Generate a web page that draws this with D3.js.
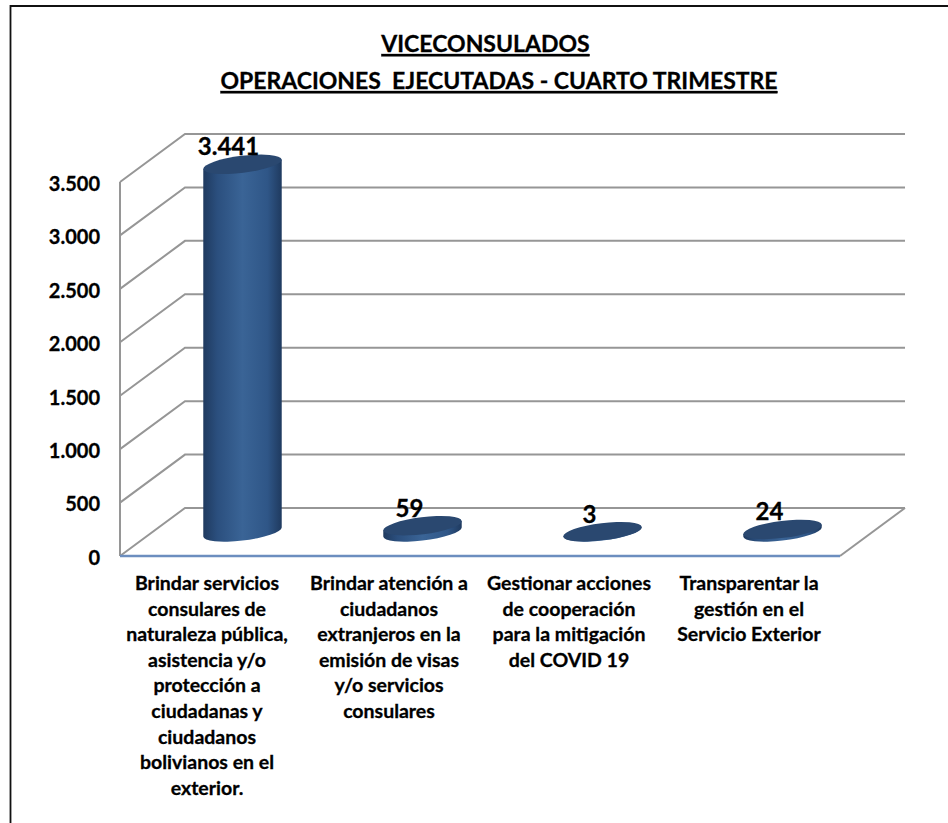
<!DOCTYPE html>
<html>
<head>
<meta charset="utf-8">
<script src="https://cdn.jsdelivr.net/npm/d3@7"></script>
<style>
  body { margin: 0; background: #fff; }
  text { font-family: Lato, sans-serif; font-weight: 700; fill: #000; stroke: #000; stroke-width: 0.3px; }
</style>
</head>
<body>
<div id="chart"></div>
<script>
const categories = [
    ["Brindar servicios", "consulares de", "naturaleza pública,", "asistencia y/o", "protección a", "ciudadanas y", "ciudadanos", "bolivianos en el", "exterior."],
    ["Brindar atención a", "ciudadanos", "extranjeros en la", "emisión de visas", "y/o servicios", "consulares"],
    ["Gestionar acciones", "de cooperación", "para la mitigación", "del COVID 19"],
    ["Transparentar la", "gestión en el", "Servicio Exterior"]
];
const values = [3441, 59, 3, 24];
const valueLabels = ["3.441", "59", "3", "24"];
const yTicks = [0, 500, 1000, 1500, 2000, 2500, 3000, 3500];
const tickLabels = ["0", "500", "1.000", "1.500", "2.000", "2.500", "3.000", "3.500"];
const titleLines = ["VICECONSULADOS", "OPERACIONES  EJECUTADAS - CUARTO TRIMESTRE"];

const width = 948, height = 823;
const plot = {left: 120, right: 840, bottom: 556, top: 182};
const depth = {x: 65, y: -48};
const rx = 39.5, ry = 8.5, tilt = -7;
const titleX = [485.5, 499];
const labelShift = [-3, -1, -1, -1];

const svg = d3.select("#chart")
    .append("svg")
    .attr("width", width)
    .attr("height", height)
    .style("display", "block");

// outer frame, only left and top are in the picture
svg.append("path")
    .attr("d", `M10.5,${height} V6 H${width}`)
    .attr("fill", "none")
    .attr("stroke", "#111")
    .attr("stroke-width", 1.8);

svg.selectAll(".title")
    .data(titleLines)
    .join("text")
    .attr("class", "title")
    .attr("x", (d, i) => titleX[i])
    .attr("y", (d, i) => 52 + i * 37)
    .attr("text-anchor", "middle")
    .attr("font-size", 23)
    .attr("xml:space", "preserve")
    .attr("text-decoration", "underline")
    .text(d => d);

const x = d3.scaleBand()
    .domain(d3.range(categories.length))
    .range([plot.left, plot.right]);

const y = d3.scaleLinear()
    .domain([0, 3500])
    .range([plot.bottom, plot.top]);

// walls and floor
const grid = svg.append("g")
    .attr("fill", "none")
    .attr("stroke", "#969696")
    .attr("stroke-width", 2);

grid.selectAll("path")
    .data(yTicks)
    .join("path")
    .attr("d", d => `M${plot.left},${y(d)} L${plot.left + depth.x},${y(d) + depth.y} H${plot.right + depth.x}`);

grid.append("path")
    .attr("d", `M${plot.left},${y(3500)} V${y(0)}`);
grid.append("path")
    .attr("d", `M${plot.right},${y(0)} L${plot.right + depth.x},${y(0) + depth.y}`);

// blue front edge of the floor
svg.append("line")
    .attr("x1", plot.left)
    .attr("x2", plot.right)
    .attr("y1", y(0))
    .attr("y2", y(0))
    .attr("stroke", "#6c8ebf")
    .attr("stroke-width", 2.5);

const yAxis = d3.axisLeft(y)
    .tickValues(yTicks)
    .tickFormat((d, i) => tickLabels[i])
    .tickSize(0)
    .tickPadding(18);

svg.append("g")
    .attr("transform", `translate(${plot.left - 2}, 2)`)
    .call(yAxis)
    .call(g => g.select(".domain").remove())
    .selectAll("text")
    .attr("font-size", 20)
    .attr("font-family", "Lato, sans-serif");

// cylinder shading
const defs = svg.append("defs");
const grad = defs.append("linearGradient")
    .attr("id", "body")
    .attr("x1", "0").attr("x2", "1")
    .attr("y1", "0").attr("y2", "0");
grad.append("stop").attr("offset", "0").attr("stop-color", "#1f3a5f");
grad.append("stop").attr("offset", "0.18").attr("stop-color", "#2b4f7e");
grad.append("stop").attr("offset", "0.5").attr("stop-color", "#3a6496");
grad.append("stop").attr("offset", "0.82").attr("stop-color", "#2f5687");
grad.append("stop").attr("offset", "1").attr("stop-color", "#1f3a5f");

// where a tilted ellipse has its left and right extremes
const t = tilt * Math.PI / 180;
const edgeX = Math.sqrt(rx * rx * Math.cos(t) ** 2 + ry * ry * Math.sin(t) ** 2);
const edgeY = (rx * rx - ry * ry) * Math.sin(t) * Math.cos(t) / edgeX;

const cx = i => x(i) + x.bandwidth() / 2 + depth.x / 2;
const base = y(0) + depth.y / 2;
const topOf = v => base - (y(0) - y(v));

const bars = svg.selectAll(".bar")
    .data(values)
    .join("g")
    .attr("class", "bar");

bars.append("path")
    .attr("fill", "url(#body)")
    .attr("d", (d, i) => {
        const c = cx(i), t0 = topOf(d);
        return `M${c - edgeX},${t0 - edgeY} L${c - edgeX},${base - edgeY}`
            + ` A${rx},${ry} ${tilt} 0 0 ${c + edgeX},${base + edgeY}`
            + ` L${c + edgeX},${t0 + edgeY} Z`;
    });

bars.append("ellipse")
    .attr("rx", rx)
    .attr("ry", ry)
    .attr("fill", "#2a4870")
    .attr("transform", (d, i) => `translate(${cx(i)},${topOf(d)}) rotate(${tilt})`);

bars.append("text")
    .attr("x", (d, i) => cx(i) - 14 + (i === 0 ? 0 : 1))
    .attr("y", d => topOf(d) - 9)
    .attr("text-anchor", "middle")
    .attr("font-size", 24)
    .text((d, i) => valueLabels[i]);

// category labels
const labels = svg.selectAll(".cat")
    .data(categories)
    .join("text")
    .attr("class", "cat")
    .attr("text-anchor", "middle")
    .attr("font-size", 19.5);

labels.selectAll("tspan")
    .data((d, i) => d.map(line => ({line, i})))
    .join("tspan")
    .attr("x", d => x(d.i) + x.bandwidth() / 2 + labelShift[d.i])
    .attr("y", (d, j) => 590 + j * 25.6)
    .text(d => d.line);
</script>
</body>
</html>
